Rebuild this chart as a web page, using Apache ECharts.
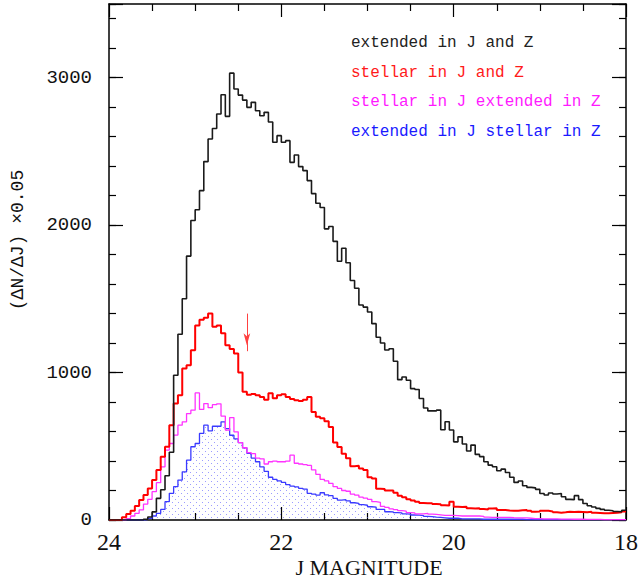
<!DOCTYPE html>
<html>
<head>
<meta charset="utf-8">
<script src="https://cdn.jsdelivr.net/npm/echarts@6/dist/echarts.min.js"></script>
<style>
  html, body { margin: 0; padding: 0; background: #ffffff; }
  #chart { width: 642px; height: 583px; }
</style>
</head>
<body>
<div id="chart"></div>
<script>
// Histogram bins: 0.05 mag wide, counted from J = 24 towards brighter magnitudes.
const magStart = 24;
const binWidth = 0.05;

const seriesNames = [
  'extended in J and Z',
  'stellar in J and Z',
  'stellar in J extended in Z',
  'extended in J stellar in Z'
];

// (dN/dJ) x 0.05 per bin, bin k covers [24 - 0.05(k+1), 24 - 0.05k]
const extendedBoth = [
  0, 0, 0, 0, 0, 0, 0, 0, 5, 20,
  55, 147, 205, 300, 460, 982, 1260, 1501, 1790, 2031,
  2104, 2234, 2431, 2584, 2656, 2754, 2884, 2738, 3031, 2923,
  2882, 2848, 2799, 2833, 2776, 2742, 2765, 2700, 2562, 2607,
  2562, 2573, 2426, 2476, 2397, 2370, 2302, 2214, 2149, 2120,
  1975, 1991, 1890, 1755, 1843, 1745, 1625, 1572, 1458, 1444,
  1411, 1332, 1240, 1201, 1153, 1162, 1077, 952, 970, 948,
  891, 885, 824, 760, 740, 740, 745, 612, 666, 610,
  530, 564, 515, 468, 508, 445, 430, 395, 372, 361,
  334, 345, 322, 290, 255, 265, 232, 221, 218, 208,
  180, 170, 183, 176, 180, 158, 140, 138, 165, 138,
  112, 97, 88, 79, 72, 66, 63, 58, 56, 66
];

const stellarBoth = [
  0, 0, 0, 18, 41, 63, 95, 135, 169, 214,
  271, 339, 429, 497, 643, 790, 846, 1027, 1050, 1151,
  1320, 1359, 1372, 1400, 1310, 1320, 1266, 1185, 1160, 1130,
  1000, 870, 850, 855, 846, 835, 815, 860, 826, 846,
  853, 835, 820, 813, 808, 815, 835, 733, 700, 690,
  670, 630, 525, 495, 450, 418, 365, 368, 350, 339,
  290, 282, 212, 210, 200, 200, 185, 165, 155, 140,
  132, 124, 116, 114, 113, 108, 106, 100, 98, 124,
  90, 88, 90, 80, 78, 79, 74, 72, 78, 79,
  68, 68, 64, 63, 62, 66, 68, 62, 56, 58,
  63, 62, 58, 52, 50, 52, 56, 55, 56, 54,
  52, 56, 50, 48, 45, 46, 48, 50, 52, 58
];

const stellarJextendedZ = [
  0, 0, 0, 0, 10, 27, 45, 68, 108, 140,
  192, 253, 361, 474, 519, 576, 643, 666, 722, 745,
  862, 750, 790, 762, 782, 788, 705, 610, 695, 598,
  525, 490, 457, 450, 420, 415, 380, 395, 400, 395,
  395, 400, 440, 385, 380, 375, 370, 340, 310, 275,
  265, 248, 226, 214, 200, 195, 176, 169, 155, 148,
  140, 124, 120, 92, 86, 75, 70, 63, 60, 50,
  48, 42, 41, 45, 40, 38, 35, 32, 32, 32,
  30, 27, 27, 27, 27, 27, 25, 20, 18, 18,
  18, 18, 18, 16, 15, 15, 14, 12, 10, 9,
  8, 8, 7, 7, 6, 6, 6, 5, 5, 5,
  4, 4, 4, 4, 3, 3, 3, 3, 3, 3
];

const extendedJstellarZ = [
  0, 0, 0, 0, 0, 0, 0, 0, 3, 11,
  27, 45, 72, 124, 181, 226, 271, 327, 406, 497,
  519, 587, 643, 605, 636, 636, 666, 620, 575, 550,
  525, 490, 452, 420, 395, 360, 330, 290, 275, 265,
  255, 240, 230, 225, 215, 210, 181, 176, 169, 185,
  170, 165, 147, 135, 138, 130, 117, 113, 104, 100,
  90, 88, 72, 72, 56, 55, 50, 48, 41, 40,
  34, 33, 30, 25, 23, 20, 18, 15, 12, 12,
  12, 8, 8, 8, 8, 8, 5, 5, 5, 5,
  5, 5, 5, 5, 5, 5, 2, 2, 2, 2,
  2, 2, 2, 2, 2, 2, 2, 2, 2, 2,
  2, 2, 2, 2, 2, 2, 2, 2, 2, 2
];

const xTickLabels = [24, 22, 20, 18];
const yTickLabels = [0, 1000, 2000, 3000];

// Marker on the stellar histogram near J = 22.4
const arrowMag = 22.4;
const arrowFrom = 1400;
const arrowTo = 1145;

// Bin left edges with a closing point, for a stepped outline
function stepPoints(counts) {
  const pts = counts.map((c, k) => [magStart - k * binWidth, c]);
  pts.push([magStart - counts.length * binWidth, counts[counts.length - 1]]);
  return pts;
}

// Light dotted hatch for the filled histogram
function dotPattern() {
  const c = document.createElement('canvas');
  c.width = 6; c.height = 6;
  const g = c.getContext('2d');
  g.fillStyle = 'rgba(90,90,255,0.6)';
  g.fillRect(1, 1, 1, 1);
  g.fillRect(4, 4, 1, 1);
  return c;
}

const tickColor = '#000';

function magAxis(position, showLabels) {
  return {
    type: 'value', position: position, inverse: true,
    min: 18, max: 24, interval: 2,
    axisLine: { show: true, onZero: false, lineStyle: { color: tickColor, width: 1.5 } },
    axisTick: { show: true, inside: true, length: 13, lineStyle: { color: tickColor, width: 1.2 } },
    minorTick: { show: true, splitNumber: 4, length: 7, lineStyle: { color: tickColor, width: 1.2 } },
    splitLine: { show: false }, minorSplitLine: { show: false },
    axisLabel: {
      show: showLabels, margin: 10, color: '#111',
      fontFamily: 'Liberation Serif', fontSize: 24,
      formatter: v => (xTickLabels.indexOf(v) >= 0 ? String(v) : '')
    }
  };
}

function countAxis(position, interval, tickLength, showLabels, showLine) {
  return {
    type: 'value', position: position, min: 0, max: 3500, interval: interval,
    axisLine: { show: showLine, onZero: false, lineStyle: { color: tickColor, width: 1.5 } },
    axisTick: { show: true, inside: true, length: tickLength, lineStyle: { color: tickColor, width: 1.2 } },
    splitLine: { show: false },
    axisLabel: {
      show: showLabels, margin: 17, color: '#111',
      fontFamily: 'Liberation Mono', fontSize: 19,
      formatter: v => (yTickLabels.indexOf(v) >= 0 ? String(v) : '')
    }
  };
}

function histSeries(name, counts, color, width, z) {
  return {
    type: 'line', name: name, data: stepPoints(counts), step: 'end',
    xAxisIndex: 0, yAxisIndex: 0,
    symbol: 'none', showSymbol: false, silent: true, z: z,
    lineStyle: { color: color, width: width },
    itemStyle: { color: color }
  };
}

const blueSeries = histSeries(seriesNames[3], extendedJstellarZ, '#3a3aff', 1.3, 2);
blueSeries.areaStyle = { color: { image: dotPattern(), repeat: 'repeat' }, opacity: 1 };

const redSeries = histSeries(seriesNames[1], stellarBoth, '#ff0000', 2, 4);
redSeries.markLine = {
  silent: true, animation: false,
  label: { show: false },
  lineStyle: { color: '#ff4040', width: 1, type: 'solid' },
  data: [[
    { coord: [arrowMag, arrowFrom], symbol: 'none' },
    { coord: [arrowMag, arrowTo], symbol: 'arrow', symbolSize: [5, 12], symbolOffset: [0, '50%'] }
  ]]
};

const chart = echarts.init(document.getElementById('chart'), null, { renderer: 'svg' });

chart.setOption({
  animation: false,
  backgroundColor: '#ffffff',
  grid: { left: 109, right: 16, top: 4, bottom: 63, containLabel: false, outerBoundsMode: 'none' },
  legend: {
    orient: 'vertical', left: 346, top: 35, padding: 0,
    icon: 'none', itemWidth: 0, itemHeight: 16, itemGap: 13.5,
    selectedMode: false,
    textStyle: { fontFamily: 'Liberation Mono', fontSize: 16, lineHeight: 16 },
    data: [
      { name: seriesNames[0], textStyle: { color: '#222222' } },
      { name: seriesNames[1], textStyle: { color: '#ff1a1a' } },
      { name: seriesNames[2], textStyle: { color: '#ff1aff' } },
      { name: seriesNames[3], textStyle: { color: '#1a1aff' } }
    ]
  },
  xAxis: [magAxis('bottom', true), magAxis('top', false)],
  yAxis: [
    countAxis('left', 1000, 14, true, true),
    countAxis('right', 1000, 14, false, true),
    countAxis('left', 200, 7, false, false),
    countAxis('right', 200, 7, false, false)
  ],
  series: [
    blueSeries,
    histSeries(seriesNames[2], stellarJextendedZ, '#ff33ff', 1.3, 3),
    redSeries,
    histSeries(seriesNames[0], extendedBoth, '#1a1a1a', 1.6, 5)
  ],
  graphic: [
    {
      type: 'text', x: 18, y: 240, rotation: Math.PI / 2, silent: true,
      style: {
        text: '(ΔN/ΔJ) ×0.05', fontFamily: 'Liberation Mono', fontSize: 18,
        fill: '#111', align: 'center', verticalAlign: 'middle'
      }
    },
    {
      type: 'text', x: 369, y: 567, silent: true,
      style: {
        text: 'J MAGNITUDE', fontFamily: 'Liberation Serif', fontSize: 22,
        fill: '#111', align: 'center', verticalAlign: 'middle'
      }
    }
  ]
});
</script>
</body>
</html>
